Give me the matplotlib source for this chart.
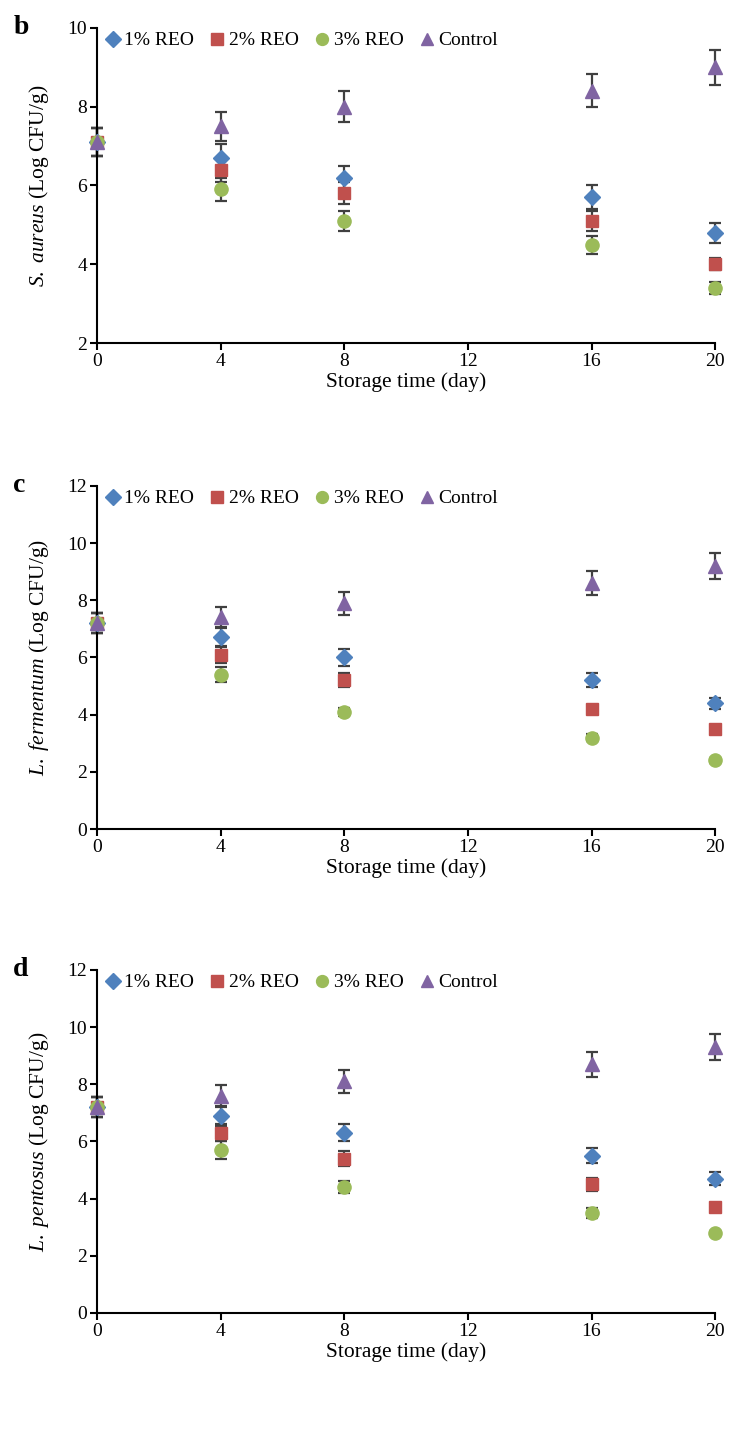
import matplotlib
matplotlib.use("Agg")
import matplotlib.pyplot as plt

plt.rcParams['font.family'] = ['Liberation Serif', 'DejaVu Serif']
plt.rcParams['mathtext.fontset'] = 'custom'
plt.rcParams['mathtext.rm'] = 'Liberation Serif'
plt.rcParams['mathtext.it'] = 'Liberation Serif:italic'

days = [0, 4, 8, 16, 20]
series_names = ['1% REO', '2% REO', '3% REO', 'Control']

# Panel b: S. aureus
b_1 = [7.1, 6.7, 6.2, 5.7, 4.8]
b_2 = [7.1, 6.4, 5.8, 5.1, 4.0]
b_3 = [7.1, 5.9, 5.1, 4.5, 3.4]
b_c = [7.1, 7.5, 8.0, 8.4, 9.0]
b_e1 = [0.35, 0.35, 0.3, 0.3, 0.25]
b_e2 = [0.35, 0.3, 0.28, 0.25, 0.15]
b_e3 = [0.35, 0.3, 0.25, 0.23, 0.15]
b_ec = [0.35, 0.37, 0.4, 0.42, 0.45]

# Panel c: L. fermentum
c_1 = [7.2, 6.7, 6.0, 5.2, 4.4]
c_2 = [7.2, 6.1, 5.2, 4.2, 3.5]
c_3 = [7.2, 5.4, 4.1, 3.2, 2.4]
c_c = [7.2, 7.4, 7.9, 8.6, 9.2]
c_e1 = [0.35, 0.35, 0.3, 0.25, 0.2]
c_e2 = [0.35, 0.3, 0.25, 0.15, 0.1]
c_e3 = [0.35, 0.27, 0.15, 0.12, 0.1]
c_ec = [0.35, 0.36, 0.4, 0.42, 0.46]

# Panel d: L. pentosus
d_1 = [7.2, 6.9, 6.3, 5.5, 4.7]
d_2 = [7.2, 6.3, 5.4, 4.5, 3.7]
d_3 = [7.2, 5.7, 4.4, 3.5, 2.8]
d_c = [7.2, 7.6, 8.1, 8.7, 9.3]
d_e1 = [0.35, 0.35, 0.3, 0.27, 0.23]
d_e2 = [0.35, 0.3, 0.25, 0.22, 0.12]
d_e3 = [0.35, 0.3, 0.22, 0.17, 0.08]
d_ec = [0.35, 0.38, 0.4, 0.43, 0.46]

x_ticks = [0, 4, 8, 12, 16, 20]
b_yticks = [2, 4, 6, 8, 10]
cd_yticks = [0, 2, 4, 6, 8, 10, 12]

colors = ['#4F81BD', '#C0504D', '#9BBB59', '#8064A2']
markers = ['D', 's', 'o', '^']
msizes = [8.5, 9, 9.5, 10]

panels = [
    ('b', r'$\mathit{S.\ aureus}$ (Log CFU/g)', [b_1, b_2, b_3, b_c], [b_e1, b_e2, b_e3, b_ec], (2, 10), b_yticks,
     [0.132, 0.7616, 0.841, 0.219]),
    ('c', r'$\mathit{L.\ fermentum}$ (Log CFU/g)', [c_1, c_2, c_3, c_c], [c_e1, c_e2, c_e3, c_ec], (0, 12), cd_yticks,
     [0.132, 0.4239, 0.841, 0.2384]),
    ('d', r'$\mathit{L.\ pentosus}$ (Log CFU/g)', [d_1, d_2, d_3, d_c], [d_e1, d_e2, d_e3, d_ec], (0, 12), cd_yticks,
     [0.132, 0.0876, 0.841, 0.2384]),
]

fig = plt.figure(figsize=(7.35, 14.39), dpi=100)

for letter, ylabel, ys, es, ylim, yticks, rect in panels:
    ax = fig.add_axes(rect)
    for y, e, col, mk, ms, name in zip(ys, es, colors, markers, msizes, series_names):
        ax.errorbar(days, y, yerr=e, fmt='none', ecolor='#404040', elinewidth=1.6,
                    capsize=4, capthick=1.6, clip_on=False, zorder=2)
        ax.plot(days, y, linestyle='none', marker=mk, color=col, markersize=ms,
                label=name, clip_on=False, zorder=3)
    ax.set_xlim(0, 20)
    ax.set_ylim(*ylim)
    ax.set_xticks(x_ticks)
    ax.set_yticks(yticks)
    for s in ['top', 'right']:
        ax.spines[s].set_visible(False)
    for s in ['left', 'bottom']:
        ax.spines[s].set_linewidth(1.5)
    ax.tick_params(direction='out', length=5, width=1.5, labelsize=14, pad=2)
    ax.set_xlabel('Storage time (day)', fontsize=15.5, labelpad=2)
    ax.set_ylabel(ylabel, fontsize=15.5, labelpad=12)
    ax.legend(loc='upper left', bbox_to_anchor=(0.0, 1.0), ncol=4, frameon=False,
              fontsize=14, handletextpad=0.0, columnspacing=0.6, handlelength=1.2,
              borderaxespad=0.0, borderpad=0.2, markerscale=0.9)
    fig.text(0.018, rect[1] + rect[3], letter, fontsize=20, fontweight='bold',
             va='center', ha='left')

fig.savefig('out.png', dpi=100)
